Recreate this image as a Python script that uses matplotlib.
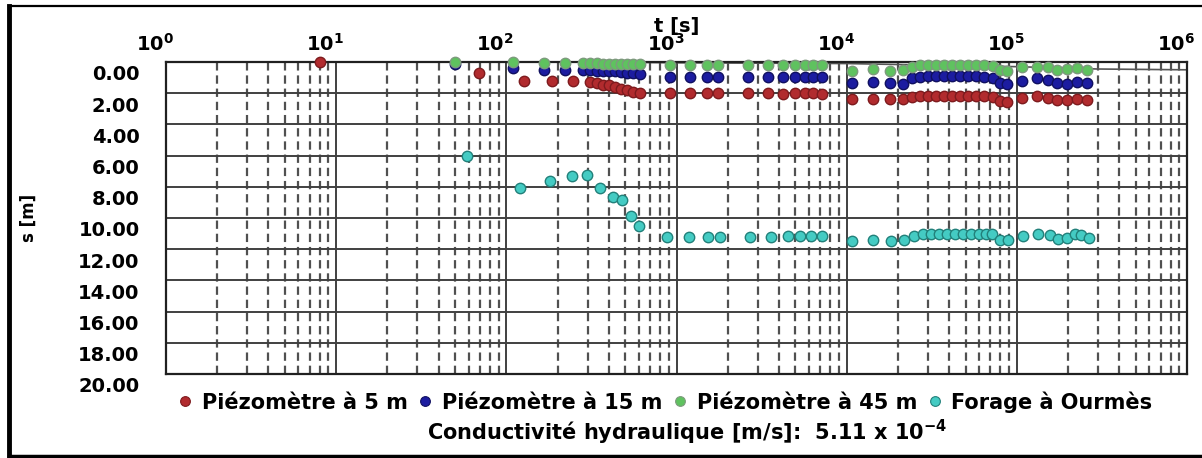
import matplotlib
matplotlib.use("Agg")
import matplotlib.pyplot as plt
from matplotlib.lines import Line2D
from matplotlib.transforms import ScaledTranslation
from matplotlib.ticker import FixedLocator, LogLocator, NullFormatter

plt.rcParams['font.family'] = ['DejaVu Sans']
plt.rcParams['font.weight'] = 'bold'
plt.rcParams['mathtext.fontset'] = 'dejavusans'
plt.rcParams['lines.scale_dashes'] = False

# ---------------- data ----------------
series_names = ["Piézomètre à 5 m", "Piézomètre à 15 m", "Piézomètre à 45 m", "Forage à Ourmès"]

t_early_red = [8, 69, 127, 185, 246, 310, 341, 370, 401, 435, 472, 512, 555, 610]
t_early_piezo = [50, 109, 166, 221, 282, 310, 341, 370, 401, 435, 472, 512, 555, 610]
t_mid = [915, 1200, 1510, 1750, 2630, 3440, 4220, 4960, 5680, 6330, 7130]
t_late = [10700, 14300, 17900, 21400, 24200, 26900, 30000, 33400, 37200, 41500, 46200,
          51500, 57400, 63900, 72300, 79400, 87400, 107000, 131000, 152000, 172000,
          197000, 225000, 258000]

s_red_early = [0.0, 0.7, 1.2, 1.2, 1.2, 1.25, 1.35, 1.45, 1.5, 1.6, 1.7, 1.8, 1.9, 2.0]
s_red_mid = [2.0, 2.0, 2.0, 2.0, 2.0, 2.0, 2.05, 2.0, 2.0, 2.0, 2.05]
s_red_late = [2.4, 2.4, 2.4, 2.35, 2.25, 2.2, 2.2, 2.2, 2.2, 2.2, 2.2, 2.2, 2.2, 2.2,
              2.25, 2.5, 2.55, 2.3, 2.2, 2.3, 2.45, 2.45, 2.4, 2.45]

s_blue_early = [0.15, 0.4, 0.5, 0.5, 0.5, 0.5, 0.55, 0.55, 0.6, 0.6, 0.65, 0.7, 0.7, 0.75]
s_blue_mid = [0.95, 0.95, 0.95, 0.95, 0.95, 0.95, 0.95, 0.95, 0.95, 0.95, 0.95]
s_blue_late = [1.35, 1.3, 1.35, 1.4, 1.05, 0.95, 0.92, 0.92, 0.92, 0.92, 0.92, 0.92, 0.92,
               0.95, 1.0, 1.35, 1.4, 1.2, 1.05, 1.15, 1.35, 1.4, 1.3, 1.35]

s_green_early = [0.0, 0.0, 0.05, 0.05, 0.05, 0.05, 0.05, 0.1, 0.1, 0.1, 0.1, 0.1, 0.1, 0.1]
s_green_mid = [0.2, 0.2, 0.2, 0.2, 0.2, 0.2, 0.2, 0.2, 0.2, 0.2, 0.2]
s_green_late = [0.6, 0.45, 0.55, 0.5, 0.3, 0.2, 0.18, 0.18, 0.18, 0.18, 0.18, 0.18, 0.18,
                0.18, 0.25, 0.5, 0.55, 0.35, 0.3, 0.35, 0.5, 0.45, 0.4, 0.5]

t_cyan = [59, 120, 180, 243, 298, 355, 423, 478, 540, 606, 880, 1180, 1530, 1800, 2700,
          3590, 4520, 5310, 6160, 7150, 10700, 14300, 18200, 21700, 24800, 28000, 31300,
          34800, 38800, 43300, 48200, 53700, 59800, 65800, 71300, 79400, 88500, 108000,
          133000, 156000, 174000, 197000, 219000, 238000, 265000]
s_cyan = [6.05, 8.05, 7.65, 7.3, 7.25, 8.1, 8.65, 8.85, 9.85, 10.5, 11.2, 11.2, 11.2, 11.2,
          11.2, 11.2, 11.15, 11.15, 11.15, 11.15, 11.45, 11.4, 11.45, 11.4, 11.15, 11.05,
          11.05, 11.05, 11.05, 11.05, 11.05, 11.05, 11.05, 11.05, 11.0, 11.4, 11.4, 11.15,
          11.05, 11.1, 11.35, 11.3, 11.0, 11.1, 11.3]

fit_t = [300, 1000, 10000, 100000, 300000, 1000000]
fit_s = [0.0, 0.05, 0.1, 0.3, 0.45, 0.5]

y_ticks = [0, 2, 4, 6, 8, 10, 12, 14, 16, 18, 20]
x_decades = [0, 1, 2, 3, 4, 5, 6]
conductivity_text = "Conductivité hydraulique [m/s]:  5.11 x 10$^{\\mathbf{-4}}$"

face_colors = ["#b12b2e", "#1c1ca0", "#5fc25f", "#44cbc3"]
edge_colors = ["#7d1b1e", "#101060", "#7d9a7d", "#22807a"]

# ---------------- figure ----------------
W, H = 1202, 458
fig = plt.figure(figsize=(W / 100, H / 100), dpi=100)
ax = fig.add_axes([166 / W, 1 - 374 / H, (1187 - 166) / W, (374 - 62) / H])

ax.set_xscale('log')
ax.set_xlim(10 ** x_decades[0], 10 ** x_decades[-1])
ax.set_ylim(y_ticks[-1], y_ticks[0])

# grid
ax.xaxis.set_major_locator(FixedLocator([10 ** d for d in x_decades]))
ax.xaxis.set_minor_locator(LogLocator(base=10, subs=[2, 3, 4, 5, 6, 7, 8, 9]))
ax.xaxis.set_minor_formatter(NullFormatter())
ax.set_yticks(y_ticks)
ax.grid(which='major', axis='both', color='#404040', lw=1.4, ls='-')
ax.grid(which='minor', axis='x', color='#505050', lw=1.6, ls=(0, (6, 3.5)))
ax.set_axisbelow(True)

ax.plot(fit_t, fit_s, color='#555555', lw=1.2, zorder=2)

series = [
    (t_early_red + t_mid + t_late, s_red_early + s_red_mid + s_red_late),
    (t_early_piezo + t_mid + t_late, s_blue_early + s_blue_mid + s_blue_late),
    (t_early_piezo + t_mid + t_late, s_green_early + s_green_mid + s_green_late),
    (t_cyan, s_cyan),
]
for (tt, ss), fc, ec, name in zip(series, face_colors, edge_colors, series_names):
    ax.plot(tt, ss, ls='none', marker='o', ms=7.5, mfc=fc, mec=ec, mew=1.0,
            label=name, zorder=3, clip_on=False)

# ticks
ax.xaxis.tick_top()
ax.set_xticklabels([r"$\mathbf{10^{%d}}$" % d for d in x_decades])
ax.set_yticklabels(["%.2f" % v for v in y_ticks])
ax.tick_params(axis='both', which='both', length=0)
ax.tick_params(axis='x', pad=5, labelsize=14)
ax.tick_params(axis='y', pad=19, labelsize=14)
for lab in ax.get_yticklabels():
    lab.set_transform(lab.get_transform() + ScaledTranslation(0, -0.11, fig.dpi_scale_trans))
    lab.set_fontweight('bold')
for lab in ax.get_xticklabels():
    lab.set_transform(lab.get_transform() + ScaledTranslation(-0.11, 0, fig.dpi_scale_trans))

ax.xaxis.set_label_position('top')
ax.set_xlabel("t [s]", fontsize=14, fontweight='bold', labelpad=1)
ax.set_ylabel("s [m]", fontsize=12, fontweight='bold')
ax.yaxis.set_label_coords((38 - 166) / (1187 - 166), 0.5)

for sp in ax.spines.values():
    sp.set_color('#202020')
    sp.set_linewidth(1.6)

# legend
handles = [Line2D([], [], ls='none', marker='o', ms=7, mfc=fc, mec=ec, mew=0.8)
           for fc, ec in zip(face_colors, edge_colors)]
fig.legend(handles, series_names, loc='center', bbox_to_anchor=(665 / W, 1 - 402 / H),
           ncol=4, frameon=False, handlelength=0.7, handletextpad=0.45,
           columnspacing=0.5, borderaxespad=0, prop={'size': 15, 'weight': 'bold'})

fig.text(687 / W, 1 - 432 / H, conductivity_text, ha='center', va='center',
         fontsize=15, fontweight='bold')

# outer frame
fig.add_artist(Line2D([9 / W, 9 / W], [1 - 6 / H, 1 - 456 / H], color='black', lw=3.5,
                      transform=fig.transFigure))
fig.add_artist(Line2D([9 / W, 1.0], [1 - 6 / H, 1 - 6 / H], color='black', lw=1.6,
                      transform=fig.transFigure))
fig.add_artist(Line2D([9 / W, 1.0], [1 - 456 / H, 1 - 456 / H], color='black', lw=2.5,
                      transform=fig.transFigure))

fig.savefig("out.png", dpi=100)
